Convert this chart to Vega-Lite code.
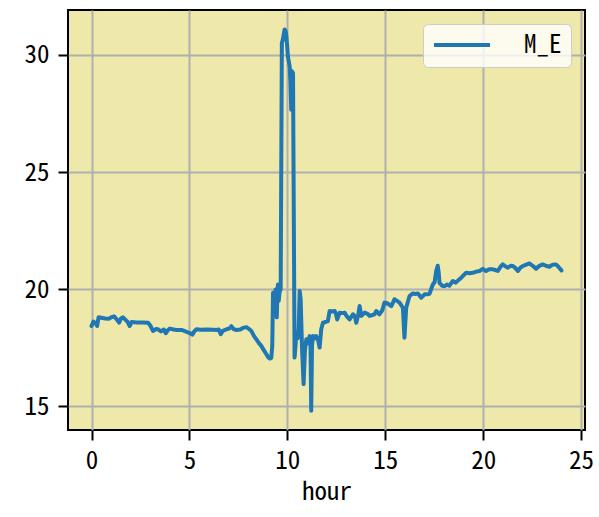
{
  "$schema": "https://vega.github.io/schema/vega-lite/v6.json",
  "autosize": "none",
  "padding": {"left": 68, "top": 10, "right": 14, "bottom": 77},
  "width": 517,
  "height": 420,
  "background": "white",
  "config": {
    "font": "Noto Sans Mono CJK SC",
    "view": {"fill": "#EEE8AA", "stroke": "black", "strokeWidth": 2},
    "axis": {
      "domain": false,
      "grid": true,
      "gridColor": "#b0b0b0",
      "gridWidth": 2,
      "gridOpacity": 1,
      "tickColor": "black",
      "tickWidth": 2,
      "tickSize": 9,
      "labelFont": "Noto Sans Mono CJK SC",
      "labelFontSize": 25,
      "labelColor": "black",
      "titleFont": "Noto Sans Mono CJK SC",
      "titleFontSize": 25,
      "titleFontWeight": "normal",
      "titleColor": "black"
    },
    "legend": {
      "labelFont": "Noto Sans Mono CJK SC",
      "labelFontSize": 25,
      "labelColor": "black"
    }
  },
  "data": {"values": [
    {"hour": 0.00, "M_E": 18.43}, {"hour": 0.10, "M_E": 18.62}, {"hour": 0.20, "M_E": 18.55}, {"hour": 0.29, "M_E": 18.43},
    {"hour": 0.36, "M_E": 18.80}, {"hour": 0.50, "M_E": 18.78}, {"hour": 0.70, "M_E": 18.75}, {"hour": 0.90, "M_E": 18.74},
    {"hour": 1.00, "M_E": 18.80}, {"hour": 1.15, "M_E": 18.84}, {"hour": 1.30, "M_E": 18.70}, {"hour": 1.41, "M_E": 18.57},
    {"hour": 1.50, "M_E": 18.75}, {"hour": 1.61, "M_E": 18.80}, {"hour": 1.75, "M_E": 18.68}, {"hour": 1.85, "M_E": 18.60},
    {"hour": 1.95, "M_E": 18.43}, {"hour": 2.05, "M_E": 18.60}, {"hour": 2.30, "M_E": 18.58}, {"hour": 2.60, "M_E": 18.58},
    {"hour": 2.89, "M_E": 18.57}, {"hour": 3.00, "M_E": 18.45}, {"hour": 3.14, "M_E": 18.22}, {"hour": 3.30, "M_E": 18.30},
    {"hour": 3.40, "M_E": 18.29}, {"hour": 3.55, "M_E": 18.20}, {"hour": 3.70, "M_E": 18.28}, {"hour": 3.79, "M_E": 18.12},
    {"hour": 3.90, "M_E": 18.25}, {"hour": 4.00, "M_E": 18.32}, {"hour": 4.20, "M_E": 18.28}, {"hour": 4.36, "M_E": 18.26},
    {"hour": 4.60, "M_E": 18.26}, {"hour": 4.80, "M_E": 18.20}, {"hour": 4.93, "M_E": 18.15}, {"hour": 5.05, "M_E": 18.12},
    {"hour": 5.15, "M_E": 18.06}, {"hour": 5.25, "M_E": 18.20}, {"hour": 5.36, "M_E": 18.29}, {"hour": 5.60, "M_E": 18.27},
    {"hour": 5.90, "M_E": 18.28}, {"hour": 6.20, "M_E": 18.27}, {"hour": 6.38, "M_E": 18.26}, {"hour": 6.50, "M_E": 18.28},
    {"hour": 6.60, "M_E": 18.08}, {"hour": 6.70, "M_E": 18.22}, {"hour": 6.90, "M_E": 18.29}, {"hour": 7.05, "M_E": 18.33},
    {"hour": 7.14, "M_E": 18.42}, {"hour": 7.25, "M_E": 18.30}, {"hour": 7.40, "M_E": 18.26}, {"hour": 7.60, "M_E": 18.28},
    {"hour": 7.75, "M_E": 18.35}, {"hour": 7.91, "M_E": 18.38}, {"hour": 8.05, "M_E": 18.30}, {"hour": 8.16, "M_E": 18.22},
    {"hour": 8.30, "M_E": 18.00}, {"hour": 8.42, "M_E": 17.86}, {"hour": 8.55, "M_E": 17.70}, {"hour": 8.67, "M_E": 17.58},
    {"hour": 8.80, "M_E": 17.40}, {"hour": 8.93, "M_E": 17.22}, {"hour": 9.02, "M_E": 17.10}, {"hour": 9.10, "M_E": 17.04},
    {"hour": 9.18, "M_E": 17.07}, {"hour": 9.23, "M_E": 17.58}, {"hour": 9.27, "M_E": 19.85}, {"hour": 9.31, "M_E": 19.30},
    {"hour": 9.33, "M_E": 19.00}, {"hour": 9.37, "M_E": 19.70}, {"hour": 9.40, "M_E": 19.99}, {"hour": 9.44, "M_E": 19.20},
    {"hour": 9.46, "M_E": 18.80}, {"hour": 9.50, "M_E": 19.90}, {"hour": 9.52, "M_E": 20.20}, {"hour": 9.56, "M_E": 19.50},
    {"hour": 9.60, "M_E": 19.85}, {"hour": 9.66, "M_E": 20.00}, {"hour": 9.72, "M_E": 30.50}, {"hour": 9.78, "M_E": 30.70},
    {"hour": 9.86, "M_E": 31.09}, {"hour": 9.90, "M_E": 31.05}, {"hour": 9.94, "M_E": 30.90}, {"hour": 10.00, "M_E": 30.30},
    {"hour": 10.03, "M_E": 29.93}, {"hour": 10.08, "M_E": 29.70}, {"hour": 10.12, "M_E": 29.50}, {"hour": 10.16, "M_E": 28.80},
    {"hour": 10.20, "M_E": 27.66}, {"hour": 10.24, "M_E": 29.30}, {"hour": 10.29, "M_E": 29.22}, {"hour": 10.37, "M_E": 17.08},
    {"hour": 10.42, "M_E": 17.60}, {"hour": 10.46, "M_E": 18.15}, {"hour": 10.52, "M_E": 17.90}, {"hour": 10.57, "M_E": 18.00},
    {"hour": 10.63, "M_E": 19.92}, {"hour": 10.68, "M_E": 19.57}, {"hour": 10.75, "M_E": 17.50}, {"hour": 10.83, "M_E": 15.95},
    {"hour": 10.90, "M_E": 17.40}, {"hour": 10.97, "M_E": 17.86}, {"hour": 11.05, "M_E": 17.70}, {"hour": 11.14, "M_E": 18.00},
    {"hour": 11.18, "M_E": 17.86}, {"hour": 11.22, "M_E": 14.81}, {"hour": 11.26, "M_E": 17.60}, {"hour": 11.31, "M_E": 18.00},
    {"hour": 11.40, "M_E": 17.90}, {"hour": 11.47, "M_E": 18.00}, {"hour": 11.55, "M_E": 17.90}, {"hour": 11.65, "M_E": 17.51},
    {"hour": 11.73, "M_E": 18.29}, {"hour": 11.82, "M_E": 18.57}, {"hour": 11.95, "M_E": 18.60}, {"hour": 12.07, "M_E": 18.64},
    {"hour": 12.16, "M_E": 19.07}, {"hour": 12.30, "M_E": 19.05}, {"hour": 12.42, "M_E": 19.07}, {"hour": 12.48, "M_E": 18.95},
    {"hour": 12.55, "M_E": 18.71}, {"hour": 12.67, "M_E": 19.00}, {"hour": 12.80, "M_E": 18.98}, {"hour": 12.93, "M_E": 19.00},
    {"hour": 13.02, "M_E": 18.86}, {"hour": 13.18, "M_E": 18.71}, {"hour": 13.35, "M_E": 18.93}, {"hour": 13.45, "M_E": 18.85},
    {"hour": 13.52, "M_E": 18.57}, {"hour": 13.62, "M_E": 18.90}, {"hour": 13.69, "M_E": 19.28}, {"hour": 13.78, "M_E": 18.86},
    {"hour": 13.95, "M_E": 19.00}, {"hour": 14.10, "M_E": 18.95}, {"hour": 14.20, "M_E": 18.86}, {"hour": 14.35, "M_E": 18.90},
    {"hour": 14.45, "M_E": 18.93}, {"hour": 14.54, "M_E": 19.07}, {"hour": 14.70, "M_E": 18.93}, {"hour": 14.85, "M_E": 19.10},
    {"hour": 14.96, "M_E": 19.43}, {"hour": 15.10, "M_E": 19.40}, {"hour": 15.31, "M_E": 19.28}, {"hour": 15.47, "M_E": 19.57},
    {"hour": 15.60, "M_E": 19.50}, {"hour": 15.73, "M_E": 19.43}, {"hour": 15.90, "M_E": 19.21}, {"hour": 15.98, "M_E": 17.93},
    {"hour": 16.07, "M_E": 19.21}, {"hour": 16.24, "M_E": 19.71}, {"hour": 16.41, "M_E": 19.82}, {"hour": 16.55, "M_E": 19.80},
    {"hour": 16.67, "M_E": 19.82}, {"hour": 16.84, "M_E": 19.64}, {"hour": 17.01, "M_E": 19.78}, {"hour": 17.15, "M_E": 19.78},
    {"hour": 17.26, "M_E": 19.80}, {"hour": 17.43, "M_E": 20.20}, {"hour": 17.52, "M_E": 20.30}, {"hour": 17.60, "M_E": 20.77},
    {"hour": 17.68, "M_E": 21.00}, {"hour": 17.73, "M_E": 20.70}, {"hour": 17.77, "M_E": 20.27}, {"hour": 17.90, "M_E": 20.15},
    {"hour": 18.03, "M_E": 20.13}, {"hour": 18.15, "M_E": 20.20}, {"hour": 18.27, "M_E": 20.15}, {"hour": 18.45, "M_E": 20.35},
    {"hour": 18.60, "M_E": 20.28}, {"hour": 18.75, "M_E": 20.40}, {"hour": 18.88, "M_E": 20.49}, {"hour": 19.00, "M_E": 20.60},
    {"hour": 19.13, "M_E": 20.70}, {"hour": 19.30, "M_E": 20.68}, {"hour": 19.47, "M_E": 20.70}, {"hour": 19.65, "M_E": 20.75},
    {"hour": 19.81, "M_E": 20.78}, {"hour": 19.98, "M_E": 20.87}, {"hour": 20.15, "M_E": 20.78}, {"hour": 20.30, "M_E": 20.85},
    {"hour": 20.49, "M_E": 20.85}, {"hour": 20.62, "M_E": 20.82}, {"hour": 20.75, "M_E": 20.78}, {"hour": 20.88, "M_E": 20.95},
    {"hour": 21.00, "M_E": 21.06}, {"hour": 21.13, "M_E": 20.98}, {"hour": 21.26, "M_E": 20.92}, {"hour": 21.40, "M_E": 21.00},
    {"hour": 21.52, "M_E": 20.99}, {"hour": 21.65, "M_E": 20.90}, {"hour": 21.77, "M_E": 20.78}, {"hour": 21.90, "M_E": 20.92},
    {"hour": 22.03, "M_E": 20.99}, {"hour": 22.20, "M_E": 21.05}, {"hour": 22.36, "M_E": 21.10}, {"hour": 22.53, "M_E": 21.00},
    {"hour": 22.70, "M_E": 20.87}, {"hour": 22.87, "M_E": 21.00}, {"hour": 23.04, "M_E": 21.06}, {"hour": 23.20, "M_E": 21.00},
    {"hour": 23.38, "M_E": 20.96}, {"hour": 23.55, "M_E": 21.05}, {"hour": 23.72, "M_E": 21.06}, {"hour": 23.85, "M_E": 20.95},
    {"hour": 23.95, "M_E": 20.85}, {"hour": 24.00, "M_E": 20.80}
  ]},
  "transform": [{"fold": ["M_E"], "as": ["series", "value"]}],
  "mark": {"type": "line", "strokeWidth": 4, "interpolate": "linear", "clip": true, "strokeJoin": "round", "strokeCap": "round"},
  "encoding": {
    "x": {
      "field": "hour", "type": "quantitative", "title": "hour",
      "scale": {"domain": [-1.2, 25.2], "nice": false, "zero": false},
      "axis": {"values": [0, 5, 10, 15, 20, 25], "tickSize": 10, "labelPadding": 8, "titlePadding": 6}
    },
    "y": {
      "field": "value", "type": "quantitative", "title": null,
      "scale": {"domain": [13.99, 31.92], "nice": false, "zero": false},
      "axis": {"values": [15, 20, 25, 30], "tickSize": 10, "labelPadding": 9}
    },
    "color": {
      "field": "series", "type": "nominal",
      "scale": {"domain": ["M_E"], "range": ["#1f77b4"]},
      "legend": {
        "title": null,
        "orient": "none",
        "legendX": 355,
        "legendY": 14,
        "symbolType": "stroke",
        "symbolSize": 3136,
        "symbolStrokeWidth": 4,
        "clipHeight": 24,
        "labelOffset": 32,
        "padding": 9,
        "fillColor": "rgba(255,255,255,0.8)",
        "strokeColor": "#cccccc",
        "cornerRadius": 5
      }
    }
  }
}
